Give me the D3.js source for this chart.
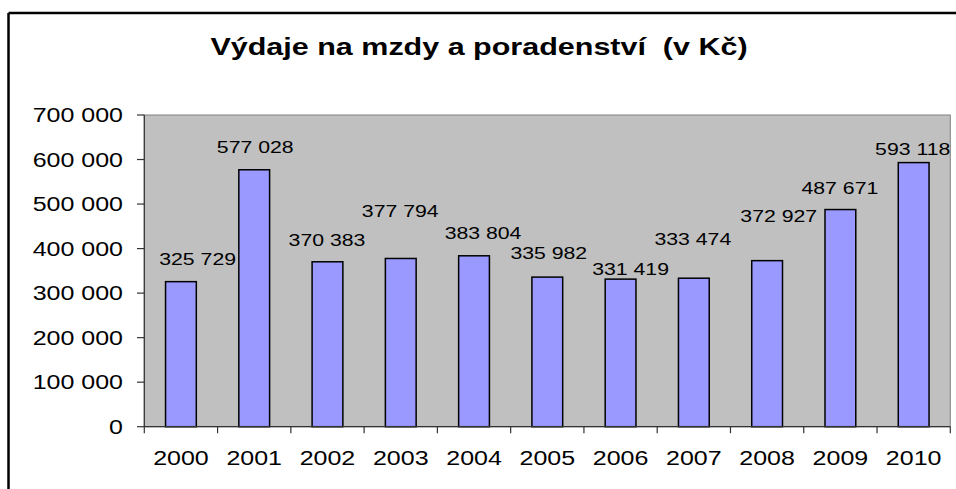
<!DOCTYPE html>
<html><head><meta charset="utf-8">
<script src="https://cdn.jsdelivr.net/npm/d3@7/dist/d3.min.js"></script>
<style>body{margin:0;background:#fff}svg{display:block}text{font-family:"Liberation Sans",Arial,sans-serif;fill:#000;white-space:pre}</style>
</head><body>
<script>
const title = "Výdaje na mzdy a poradenství  (v Kč)";
const years = ["2000","2001","2002","2003","2004","2005","2006","2007","2008","2009","2010"];
const values = [325729, 577028, 370383, 377794, 383804, 335982, 331419, 333474, 372927, 487671, 593118];
const yTicks = [0, 100000, 200000, 300000, 400000, 500000, 600000, 700000];
// manual label nudges (dx, dy in px) as placed in the original chart
const labelNudge = [[16.7,0],[1,0],[-0.5,0.5],[-0.5,-24.5],[9,0],[1.5,-1.5],[10,12.5],[-1,-16.5],[11.6,-22.5],[-0.5,0.5],[-1,9]];

const W = 956, H = 489, SX = 1.25;
const fmt = v => d3.format(",")(v).replace(/,/g, " ");

const svg = d3.select("body").append("svg").attr("width", W).attr("height", H);

// outer chart frame
svg.append("line").attr("x1", 8.5).attr("x2", W).attr("y1", 13).attr("y2", 13).attr("stroke", "#000").attr("stroke-width", 2.5);
svg.append("line").attr("x1", 8.5).attr("x2", 8.5).attr("y1", 13).attr("y2", H).attr("stroke", "#000").attr("stroke-width", 2.5);

const x = d3.scaleBand().domain(years).range([144.3, 950.3]).paddingInner(0.58).paddingOuter(0.29);
const y = d3.scaleLinear().domain([0, 700000]).range([426.7, 115]);

// plot area
svg.append("rect").attr("x", 144.3).attr("y", y(700000)).attr("width", 806).attr("height", y(0) - y(700000))
  .attr("fill", "#C0C0C0").attr("stroke", "#808080").attr("stroke-width", 1);

// bars
svg.selectAll("rect.bar").data(values).join("rect").attr("class", "bar")
  .attr("x", (d, i) => x(years[i])).attr("width", x.bandwidth())
  .attr("y", d => y(d)).attr("height", d => y(0) - y(d))
  .attr("fill", "#9999FF").attr("stroke", "#000").attr("stroke-width", 1.5);

// y axis
const ya = svg.append("g");
ya.append("line").attr("x1", 144.3).attr("x2", 144.3).attr("y1", y(700000)).attr("y2", y(0)).attr("stroke", "#333").attr("stroke-width", 1.2);
yTicks.forEach(t => {
  ya.append("line").attr("x1", 137).attr("x2", 144.3).attr("y1", y(t)).attr("y2", y(t)).attr("stroke", "#333").attr("stroke-width", 1.2);
  ya.append("text").attr("transform", `translate(123,${y(t)}) scale(${SX},1)`).attr("text-anchor", "end")
    .attr("dy", "0.36em").style("font-size", "20px").text(fmt(t));
});

// x axis
const xa = svg.append("g");
xa.append("line").attr("x1", 144.3).attr("x2", 950.3).attr("y1", y(0)).attr("y2", y(0)).attr("stroke", "#333").attr("stroke-width", 1.2);
const edges = years.map(d => x(d) - x.step() * x.paddingInner() / 2);
edges.push(950.3);
edges.forEach(e => xa.append("line").attr("x1", e).attr("x2", e).attr("y1", y(0)).attr("y2", y(0) + 6.5).attr("stroke", "#333").attr("stroke-width", 1.2));
years.forEach(d => xa.append("text").attr("transform", `translate(${x(d) + x.bandwidth() / 2},465) scale(${SX},1)`)
  .attr("text-anchor", "middle").style("font-size", "20px").text(d));

// data labels
values.forEach((v, i) => {
  const cx = x(years[i]) + x.bandwidth() / 2 + labelNudge[i][0];
  const cy = y(v) - 16.5 + labelNudge[i][1];
  svg.append("text").attr("transform", `translate(${cx},${cy}) scale(${SX},1)`).attr("text-anchor", "middle")
    .style("font-size", "17px").text(fmt(v));
});

// title
svg.append("text").attr("transform", `translate(479,55) scale(${SX},1)`).attr("text-anchor", "middle")
  .style("font-size", "24.4px").style("font-weight", "bold").text(title);
</script>
</body></html>
